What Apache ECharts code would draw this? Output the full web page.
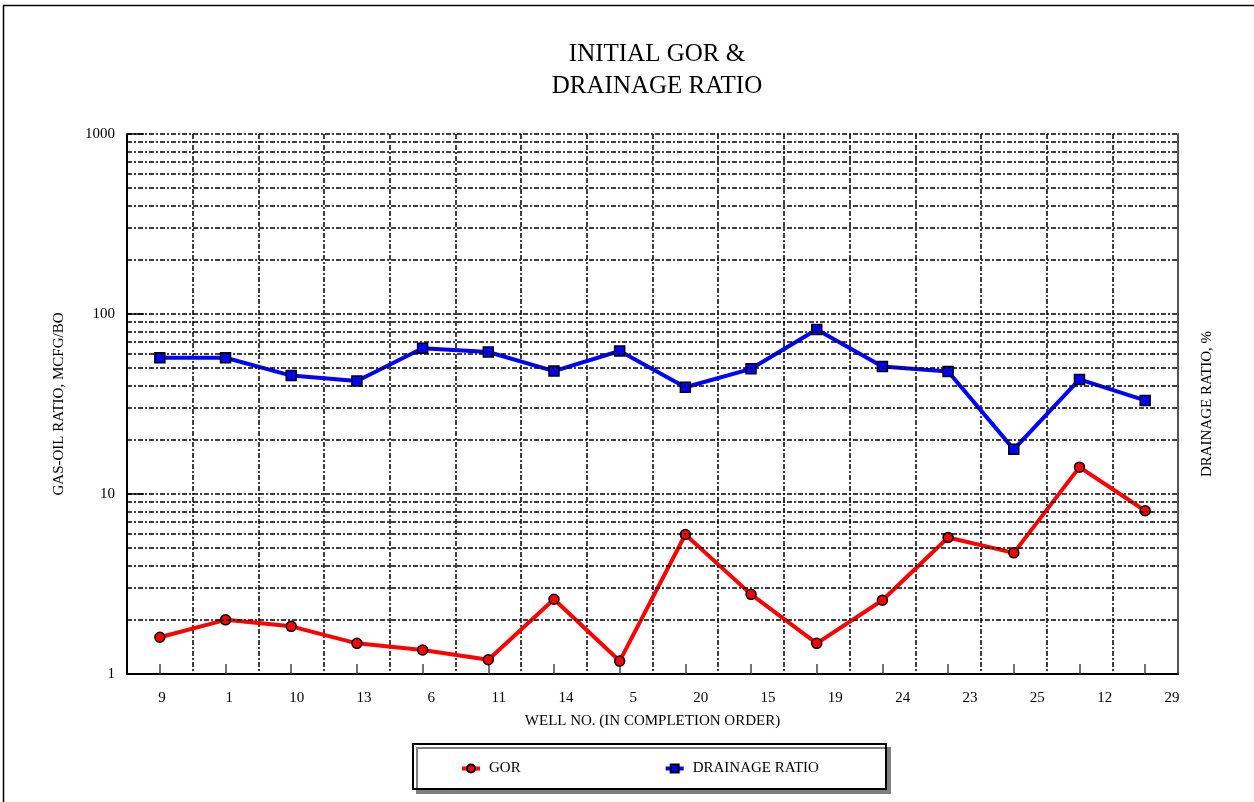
<!DOCTYPE html>
<html><head><meta charset="utf-8">
<script src="https://cdn.jsdelivr.net/npm/echarts@6/dist/echarts.min.js"></script>
<style>html,body{margin:0;padding:0;background:#fff}#c{width:1254px;height:802px}</style>
</head><body><div id="c"></div>
<script>
const wells = ['9','1','10','13','6','11','14','5','20','15','19','24','23','25','12','29'];
const gor = [1.60, 2.00, 1.84, 1.48, 1.36, 1.20, 2.60, 1.18, 5.96, 2.77, 1.48, 2.57, 5.73, 4.71, 14.1, 8.07];
const drainage = [57.1, 57.1, 45.5, 42.4, 64.5, 61.5, 48.2, 62.3, 39.2, 49.6, 82.0, 51.1, 47.9, 17.7, 43.3, 33.1];
const minorGridValues = [2,3,4,5,6,7,8,9,20,30,40,50,60,70,80,90,200,300,400,500,600,700,800,900];

const FONT = "'Liberation Serif', 'Times New Roman', serif";
const gridLine = {color: '#000', width: 1.5, type: [5, 2, 2, 2]};

const chart = echarts.init(document.getElementById('c'), null, {renderer: 'canvas'});
chart.setOption({
  animation: false,
  backgroundColor: '#fff',
  title: {
    text: 'INITIAL GOR &\nDRAINAGE RATIO',
    left: 652, top: 33, textAlign: 'center',
    textStyle: {fontFamily: FONT, fontSize: 25, fontWeight: 'normal', lineHeight: 32, color: '#000'}
  },
  graphic: [
    {type: 'line', z: 0, shape: {x1: 3.5, y1: 5.5, x2: 3.5, y2: 802}, style: {stroke: '#000', lineWidth: 1.5}},
    {type: 'line', z: 0, shape: {x1: 3, y1: 5.5, x2: 1254, y2: 5.5}, style: {stroke: '#000', lineWidth: 1.5}},
    {type: 'rect', z: 1, shape: {x: 413, y: 744, width: 473, height: 45},
      style: {fill: '#fff', stroke: '#000', lineWidth: 2, shadowColor: '#7f7f7f', shadowOffsetX: 4, shadowOffsetY: 4, shadowBlur: 0}}
  ],
  legend: {
    z: 5,
    data: ['GOR', 'DRAINAGE RATIO'],
    left: 460, top: 761,
    padding: 0,
    itemWidth: 18, itemHeight: 10, itemGap: 143,
    lineStyle: {width: 4},
    textStyle: {fontFamily: FONT, fontSize: 15, color: '#000', padding: [0, 0, 0, 4]}
  },
  grid: [
    {left: 127, right: 76, top: 134, bottom: 128, outerBoundsMode: 'none', containLabel: false},
    {left: 128.3, right: 48.3, top: 134, bottom: 128, outerBoundsMode: 'none', containLabel: false}
  ],
  xAxis: [
    {
      type: 'category', gridIndex: 0, data: wells, boundaryGap: true,
      name: 'WELL NO. (IN COMPLETION ORDER)', nameLocation: 'middle', nameGap: 40,
      nameTextStyle: {fontFamily: FONT, fontSize: 15, color: '#000'},
      axisLine: {show: true, lineStyle: {color: '#000', width: 2}},
      axisTick: {show: true, inside: true, alignWithLabel: true, length: 10, lineStyle: {color: '#444', width: 1.5}},
      axisLabel: {show: false},
      splitLine: {show: true, lineStyle: gridLine}
    },
    {
      type: 'category', gridIndex: 1, data: wells, boundaryGap: true,
      axisLine: {show: false}, axisTick: {show: false}, splitLine: {show: false},
      axisLabel: {show: true, margin: 17, fontFamily: FONT, fontSize: 15, color: '#000', interval: 0}
    }
  ],
  yAxis: [
    {
      type: 'log', gridIndex: 0, logBase: 10, min: 1, max: 1000,
      name: 'GAS-OIL RATIO, MCFG/BO', nameLocation: 'middle', nameGap: 60, nameRotate: 90,
      nameTextStyle: {fontFamily: FONT, fontSize: 15, color: '#000'},
      axisLine: {show: true, lineStyle: {color: '#000', width: 2}},
      axisTick: {show: true, inside: true, length: 17, lineStyle: {color: '#000', width: 1.5}},
      axisLabel: {margin: 12, fontFamily: FONT, fontSize: 15, color: '#000', formatter: v => String(Math.round(v))},
      splitLine: {show: true, lineStyle: gridLine}
    },
    {
      type: 'log', gridIndex: 0, logBase: 10, min: 1, max: 1000, position: 'right',
      name: 'DRAINAGE RATIO, %', nameLocation: 'middle', nameGap: 22, nameRotate: 90,
      nameTextStyle: {fontFamily: FONT, fontSize: 15, color: '#000'},
      axisLine: {show: true, lineStyle: {color: '#555', width: 2}},
      axisTick: {show: false}, axisLabel: {show: false}, splitLine: {show: false}
    },
    {type: 'value', gridIndex: 1, show: false}
  ],
  series: [
    {
      name: 'minor-grid', type: 'line', xAxisIndex: 0, yAxisIndex: 0, z: 1,
      data: wells.map(() => null), showSymbol: false, silent: true,
      lineStyle: {width: 0},
      markLine: {
        silent: true, symbol: ['none', 'none'], label: {show: false},
        lineStyle: gridLine, emphasis: {disabled: true},
        data: minorGridValues.map(v => ({yAxis: v}))
      }
    },
    {
      name: 'GOR', type: 'line', xAxisIndex: 0, yAxisIndex: 0, z: 3,
      data: gor, symbol: 'circle', symbolSize: 10,
      lineStyle: {color: '#ff0000', width: 4},
      itemStyle: {color: '#ff0000', borderColor: '#000', borderWidth: 1.5}
    },
    {
      name: 'DRAINAGE RATIO', type: 'line', xAxisIndex: 0, yAxisIndex: 0, z: 3,
      data: drainage, symbol: 'rect', symbolSize: 10,
      lineStyle: {color: '#0000ff', width: 4},
      itemStyle: {color: '#0000ff', borderColor: '#000', borderWidth: 1.5}
    }
  ]
});
</script>
</body></html>
